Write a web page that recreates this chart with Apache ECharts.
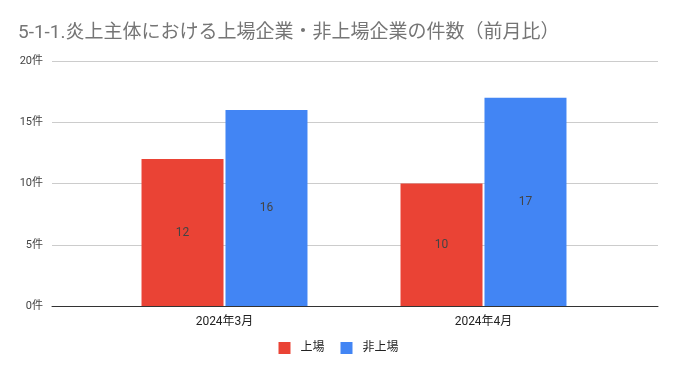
<!DOCTYPE html>
<html><head><meta charset="utf-8">
<script src="https://cdn.jsdelivr.net/npm/echarts@6/dist/echarts.min.js"></script>
<style>html,body{margin:0;padding:0;background:#fff}#c{width:677px;height:371px}</style>
</head><body><div id="c"></div>
<script>
const categories = ['2024年3月', '2024年4月'];
const listed = [12, 10];
const unlisted = [16, 17];
const yTicks = [0, 5, 10, 15, 20];

const chart = echarts.init(document.getElementById('c'));
const font = 'Roboto, "Noto Sans CJK JP", sans-serif';
chart.setOption({
  animation: false,
  title: {
    text: '5-1-1.炎上主体における上場企業・非上場企業の件数（前月比）',
    left: 13, top: 19,
    textStyle: { fontSize: 19, fontWeight: 'normal', color: '#757575', fontFamily: font }
  },
  legend: {
    top: 337, left: 'center', itemWidth: 12, itemHeight: 12, itemGap: 16,
    icon: 'rect',
    textStyle: { fontSize: 12, color: '#222', fontFamily: font, padding: [0, 0, 0, 5] },
    data: ['上場', '非上場']
  },
  grid: [
    { left: 52, right: 19, top: 61, bottom: 65 },
    { left: 95, right: 64, top: 61, bottom: 65 }
  ],
  xAxis: [
    { type: 'value', gridIndex: 0, min: 0, max: 1, show: true,
      axisLine: { show: true, lineStyle: { color: '#333', width: 1 } },
      axisTick: { show: false }, axisLabel: { show: false }, splitLine: { show: false } },
    { type: 'category', gridIndex: 1, data: categories,
      axisLine: { show: false }, axisTick: { show: false },
      axisLabel: { fontSize: 12, color: '#222', margin: 10, fontFamily: font } }
  ],
  yAxis: [
    { type: 'value', gridIndex: 0, min: yTicks[0], max: yTicks[yTicks.length - 1], interval: 5,
      axisLine: { show: false }, axisTick: { show: false },
      axisLabel: { formatter: '{value}件', fontSize: 11, color: '#444', margin: 9, fontFamily: font },
      splitLine: { lineStyle: { color: '#cccccc' } } },
    { type: 'value', gridIndex: 1, min: yTicks[0], max: yTicks[yTicks.length - 1], interval: 5,
      show: false, splitLine: { show: false } }
  ],
  series: [
    { name: '上場', type: 'bar', xAxisIndex: 1, yAxisIndex: 1, data: listed,
      barWidth: 82, barGap: '2.4%', itemStyle: { color: '#EA4335' },
      label: { show: true, position: 'inside', color: '#444', fontSize: 12, fontFamily: font } },
    { name: '非上場', type: 'bar', xAxisIndex: 1, yAxisIndex: 1, data: unlisted,
      barWidth: 82, barGap: '2.4%', itemStyle: { color: '#4285F4' },
      label: { show: true, position: 'inside', color: '#444', fontSize: 12, fontFamily: font } }
  ]
});
</script></body></html>
